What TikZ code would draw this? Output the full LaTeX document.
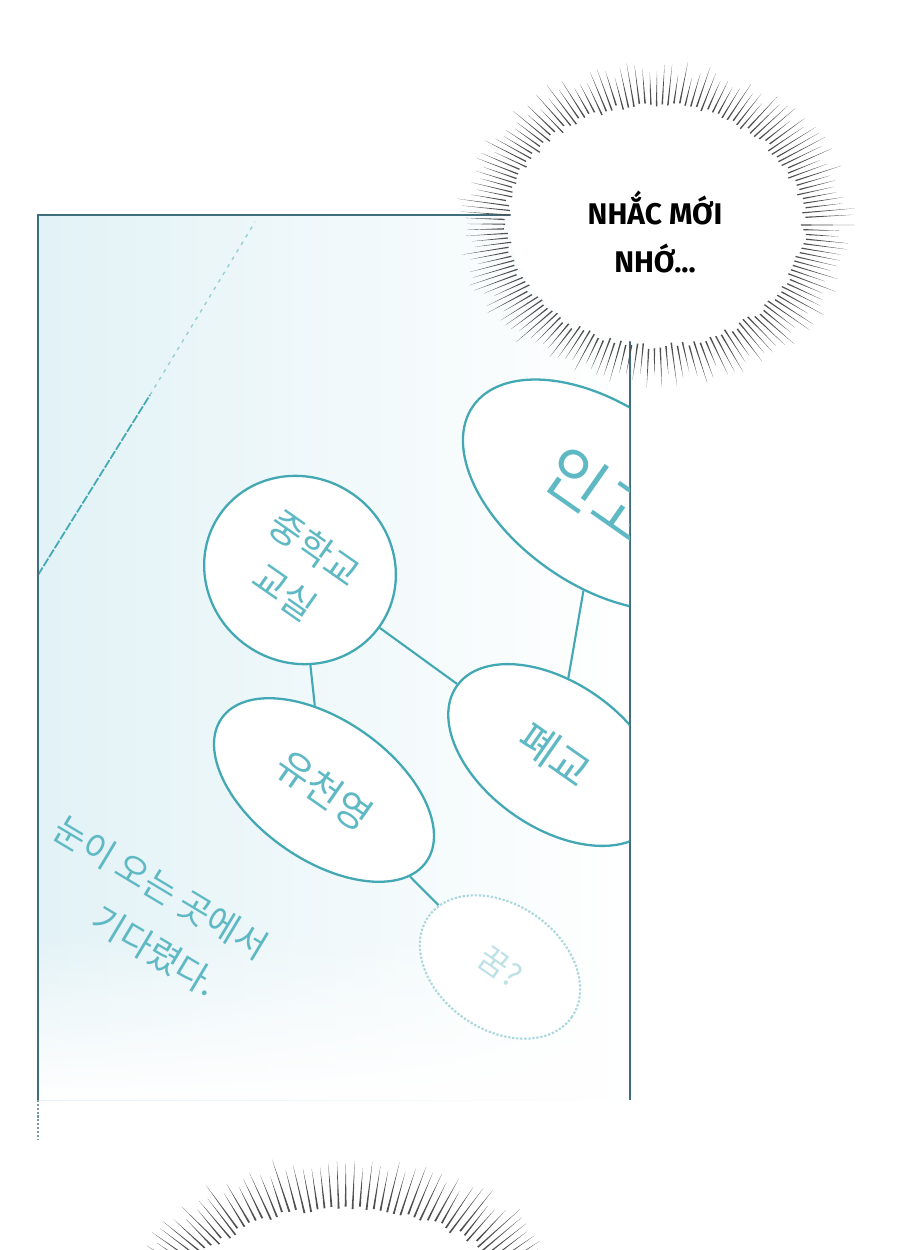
\documentclass[tikz,border=0pt]{standalone}
\usepackage{fontspec}
\usetikzlibrary{shapes.geometric,fadings}
\newfontfamily\kr{Noto Sans CJK KR}
\newfontfamily\vi{Fira Sans}
\definecolor{ink}{HTML}{3E6D7C}
\definecolor{accent}{HTML}{42A8B4}
\definecolor{chalk}{HTML}{5FB9C4}
\definecolor{pale}{HTML}{E2F2F6}
\definecolor{spike}{HTML}{505050}

\begin{document}
\begin{tikzpicture}[x=0.02cm,y=-0.02cm,
 bubble/.style={ellipse,draw=accent,line width=1.3pt,fill=white,rotate=-35,
 align=center,text=chalk,inner sep=0pt,font=\kr\fontsize{21}{30}\selectfont},
 faint/.style={bubble,draw=accent!45,densely dotted,line width=1.2pt,text=accent!35},
 note/.style={text=chalk,font=\kr\fontsize{20}{24}\selectfont,rotate=-31,anchor=west},
 link/.style={accent,line width=1.2pt}]
\useasboundingbox (0,0) rectangle (900,1250);
% panel
\fill[left color=pale,right color=white] (38,215) rectangle (630,1100);
\fill[white,path fading=north] (38,930) rectangle (630,1100);
\draw[accent,line width=1pt,dash pattern=on 5pt off 1pt] (38,575) -- (150,395);
\draw[accent!55,line width=.8pt,dash pattern=on 2pt off 3pt] (150,395) -- (255,222);
\draw[ink,line width=1.6pt] (38,1100) -- (38,215) -- (520,215);
\draw[ink,line width=1.6pt] (630,300) -- (630,1100);
\draw[ink!70,line width=1.2pt,densely dotted] (38,1100) -- (38,1140);
% mind map
\begin{scope}
\clip (38,215) rectangle (629,1100);
\node[bubble,minimum width=6.2cm,minimum height=3.6cm,
 font=\kr\fontsize{36}{40}\selectfont] (ingo) at (600,495) {인고};
\node[bubble,minimum width=4.8cm,minimum height=2.9cm,
 font=\kr\fontsize{24}{30}\selectfont] (pyego) at (555,755) {폐교};
\end{scope}
\node[bubble,minimum width=3.9cm,minimum height=3.7cm] (jhk) at (300,570) {중학교\\교실};
\node[bubble,minimum width=5cm,minimum height=2.8cm,
 font=\kr\fontsize{22}{30}\selectfont] (ycy) at (324,790) {유천영};
\node[faint,minimum width=3.5cm,minimum height=2.5cm,
 font=\kr\fontsize{18}{22}\selectfont] (kkum) at (500,967) {꿈?};
\foreach \x/\y in {jhk/ycy,jhk/pyego,ingo/pyego,ycy/kkum} \draw[link] (\x)--(\y);
\node[note] (snow) at (52,822) {눈이 오는 곳에서};
\node[note] (wait) at (90,912) {기다렸다.};
% bursts
\pgfmathsetseed{7}
\fill[white] (655,225) ellipse [x radius=145,y radius=118];
\foreach \a in {0,2.2,...,358}{
 \pgfmathsetmacro\r{182*(1+0.11*rnd)}
 \pgfmathsetmacro\s{1+0.05*rnd}
 \fill[spike] ({655+145*\s*cos(\a-0.3)},{225+118*\s*sin(\a-0.3)})
 -- ({655+145*\s*cos(\a+0.3)},{225+118*\s*sin(\a+0.3)})
 -- ({655+\r*cos(\a)},{225+\r*0.82*sin(\a)}) -- cycle;
}
\node[font=\vi\bfseries\fontsize{17}{27}\selectfont,align=center] (shout) at (655,232) {NHẮC MỚI\\NHỚ...};
\begin{scope}
\clip (0,0) rectangle (900,1250);
\foreach \a in {180,182.2,...,360}{
 \pgfmathsetmacro\r{1+0.11*rnd}
 \pgfmathsetmacro\s{1+0.05*rnd}
 \fill[spike] ({345+180*\s*cos(\a-0.3)},{1335+125*\s*sin(\a-0.3)})
 -- ({345+180*\s*cos(\a+0.3)},{1335+125*\s*sin(\a+0.3)})
 -- ({345+220*\r*cos(\a)},{1335+166*\r*sin(\a)}) -- cycle;
}
\end{scope}
\end{tikzpicture}
\end{document}
